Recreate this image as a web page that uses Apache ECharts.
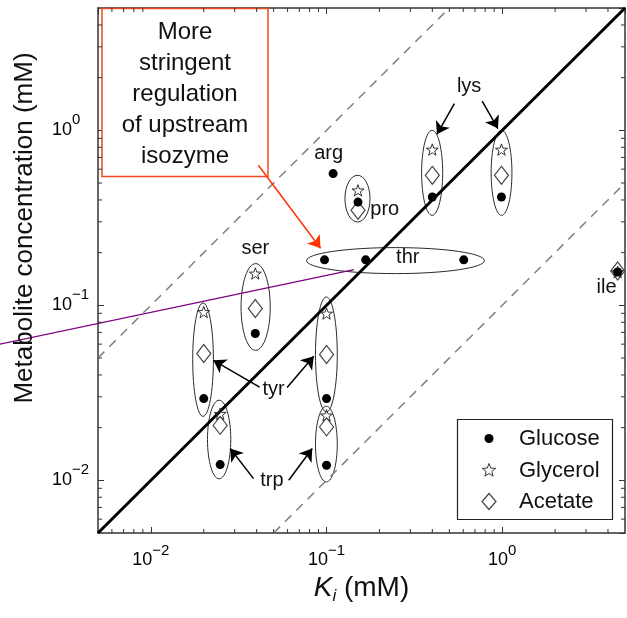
<!DOCTYPE html>
<html>
<head>
<meta charset="utf-8">
<script src="https://cdn.jsdelivr.net/npm/echarts@6/dist/echarts.min.js"></script>
<style>
  html, body { margin: 0; padding: 0; background: #fff; }
  #main { width: 627px; height: 618px; }
</style>
</head>
<body>
<div id="main"></div>
<script>
// ---------- 数据 ----------
var axisMin = 0.005, axisMax = 5;
var minorTicks = [0.006, 0.007, 0.008, 0.009,
  0.02, 0.03, 0.04, 0.05, 0.06, 0.07, 0.08, 0.09,
  0.2, 0.3, 0.4, 0.5, 0.6, 0.7, 0.8, 0.9,
  2, 3, 4];

// [Ki, concentration]
var glucose = [[0.109, 0.566], [0.151, 0.389], [0.4, 0.416], [0.99, 0.416],
  [0.0974, 0.182], [0.167, 0.182], [0.604, 0.182], [0.0393, 0.069],
  [0.02, 0.0293], [0.1, 0.0293], [0.0248, 0.0123], [0.1, 0.0122], [4.54, 0.155]];
var glycerol = [[0.151, 0.454], [0.4, 0.776], [0.99, 0.776], [0.0393, 0.152],
  [0.02, 0.0916], [0.1, 0.0897], [0.0248, 0.024], [0.1, 0.0235], [4.54, 0.155]];
var acetate = [[0.151, 0.349], [0.4, 0.553], [0.99, 0.553], [0.0393, 0.0958],
  [0.02, 0.053], [0.1, 0.0523], [0.0248, 0.0206], [0.1, 0.0202], [4.54, 0.157]];

// y = x and the 10-fold bands
var identityLine = [[0.005, 0.005], [5, 5]];
var upperLine = [[0.005, 0.05], [0.5, 5]];
var lowerLine = [[0.05, 0.005], [5, 0.5]];

// circled groups: [KiLo, KiHi, concLo, concHi]
var groupBounds = [
  [0.1273, 0.1768, 0.2992, 0.5533],  // pro
  [0.3476, 0.4583, 0.3268, 1.0],     // lys
  [0.865, 1.136, 0.3268, 1.0],       // lys
  [0.0769, 0.7923, 0.1518, 0.2137],  // thr
  [0.0326, 0.0478, 0.0553, 0.1731],  // ser
  [0.0173, 0.0227, 0.0232, 0.1031],  // tyr
  [0.0865, 0.1151, 0.0246, 0.1115],  // tyr
  [0.021, 0.0285, 0.0102, 0.0287],   // trp
  [0.0865, 0.1151, 0.0098, 0.0265]   // trp
];

var labelNames = ['arg', 'pro', 'thr', 'lys', 'ser', 'tyr', 'trp', 'ile'];
var labelPos = [[0.1027, 0.739], [0.2145, 0.354], [0.29, 0.188], [0.648, 1.784],
  [0.0393, 0.212], [0.05, 0.033], [0.0489, 0.01], [3.93, 0.1263]];

var arrows = [
  [[0.534, 1.421], [0.425, 0.949]],
  [[0.769, 1.47], [0.945, 1.023]],
  [[0.0416, 0.0341], [0.0227, 0.0485]],
  [[0.0596, 0.0339], [0.0846, 0.0511]],
  [[0.0384, 0.01023], [0.0283, 0.0152]],
  [[0.0609, 0.01], [0.0829, 0.0152]]
];
var calloutArrow = [[0.0409, 0.631], [0.0924, 0.2117]];
var purpleLine = [[0.00137, 0.0599], [0.1432, 0.16]];

// ---------- 绘图 ----------
var FONT = '"Liberation Sans", Arial, Helvetica, sans-serif';
var starPath = 'path://M0,-10L2.35,-3.24L9.51,-3.09L3.8,1.24L5.88,8.09L0,4L-5.88,8.09L-3.8,1.24L-9.51,-3.09L-2.35,-3.24Z';

function powLabel(v) {
  var l = Math.log10(v), e = Math.round(l);
  if (Math.abs(l - e) > 1e-6) return '';
  return '{b|10}{s|' + (e < 0 ? '\u2212' + (-e) : e) + '}';
}
var tickRich = {
  b: { fontSize: 18, fontFamily: FONT, color: '#000' },
  s: { fontSize: 15, fontFamily: FONT, color: '#000', padding: [0, 0, 20, 0] }
};

function starPoints(cx, cy, R, r) {
  var pts = [];
  for (var k = 0; k < 10; k++) {
    var rad = k % 2 ? r : R, a = -Math.PI / 2 + k * Math.PI / 5;
    pts.push([cx + rad * Math.cos(a), cy + rad * Math.sin(a)]);
  }
  return pts;
}

function minorX(params, api) {
  var v = api.value(0);
  var b = api.coord([v, axisMin]), t = api.coord([v, axisMax]);
  return { type: 'group', children: [
    { type: 'line', shape: { x1: b[0], y1: b[1], x2: b[0], y2: b[1] - 4 }, style: { stroke: '#333', lineWidth: 1 } },
    { type: 'line', shape: { x1: t[0], y1: t[1], x2: t[0], y2: t[1] + 4 }, style: { stroke: '#333', lineWidth: 1 } }
  ] };
}
function minorY(params, api) {
  var v = api.value(1);
  var l = api.coord([axisMin, v]), r = api.coord([axisMax, v]);
  return { type: 'group', children: [
    { type: 'line', shape: { x1: l[0], y1: l[1], x2: l[0] + 4, y2: l[1] }, style: { stroke: '#333', lineWidth: 1 } },
    { type: 'line', shape: { x1: r[0], y1: r[1], x2: r[0] - 4, y2: r[1] }, style: { stroke: '#333', lineWidth: 1 } }
  ] };
}

var chart = echarts.init(document.getElementById('main'));

var logAxis = {
  type: 'log', logBase: 10, min: axisMin, max: axisMax,
  splitLine: { show: false },
  axisLine: { show: true, lineStyle: { color: '#333', width: 1.5 } },
  axisTick: { show: true, inside: true, length: 6, lineStyle: { color: '#333', width: 1 } },
  minorTick: { show: false }
};

var option = {
  animation: false,
  backgroundColor: '#fff',
  grid: { left: 98, top: 8, width: 527, height: 525, outerBoundsMode: 'none' },
  xAxis: [
    echarts.util.merge({
      position: 'bottom',
      axisLabel: { formatter: powLabel, rich: tickRich, margin: 10, showMinLabel: false, showMaxLabel: false },
      name: '{k|K}{i|i}{u| (mM)}',
      nameLocation: 'middle',
      nameGap: 20,
      nameTextStyle: {
        rich: {
          k: { fontSize: 28, fontStyle: 'italic', fontFamily: FONT, color: '#111' },
          i: { fontSize: 17, fontStyle: 'italic', fontFamily: FONT, color: '#111', padding: [16, 0, 0, 0] },
          u: { fontSize: 28, fontFamily: FONT, color: '#111' }
        }
      }
    }, logAxis, true),
    echarts.util.merge({ position: 'top', axisLabel: { show: false } }, logAxis, true)
  ],
  yAxis: [
    echarts.util.merge({
      position: 'left',
      axisLabel: { formatter: powLabel, rich: tickRich, margin: 46, align: 'left', showMinLabel: false, showMaxLabel: false }
    }, logAxis, true),
    echarts.util.merge({ position: 'right', axisLabel: { show: false } }, logAxis, true)
  ],
  series: [
    {
      type: 'custom', name: 'groups', z: 2,
      data: groupBounds,
      encode: { x: [0, 1], y: [2, 3] },
      renderItem: function (params, api) {
        var a = api.coord([api.value(0), api.value(2)]);
        var b = api.coord([api.value(1), api.value(3)]);
        return {
          type: 'ellipse',
          shape: { cx: (a[0] + b[0]) / 2, cy: (a[1] + b[1]) / 2, rx: Math.abs(b[0] - a[0]) / 2, ry: Math.abs(b[1] - a[1]) / 2 },
          style: { fill: 'none', stroke: '#2a2a2a', lineWidth: 1 }
        };
      }
    },
    { type: 'line', data: upperLine, symbol: 'none', z: 3, lineStyle: { color: '#808080', width: 1.5, type: [9, 7] } },
    { type: 'line', data: lowerLine, symbol: 'none', z: 3, lineStyle: { color: '#808080', width: 1.5, type: [9, 7] } },
    { type: 'line', data: identityLine, symbol: 'none', z: 3, lineStyle: { color: '#000', width: 3 } },
    {
      type: 'scatter', name: 'Acetate', data: acetate, z: 4,
      symbol: 'diamond', symbolSize: [14, 18],
      itemStyle: { color: 'rgba(0,0,0,0)', borderColor: '#444', borderWidth: 1.2, opacity: 1 }
    },
    {
      type: 'scatter', name: 'Glycerol', data: glycerol, z: 4,
      symbol: starPath, symbolSize: 12, symbolKeepAspect: true,
      itemStyle: { color: 'rgba(0,0,0,0)', borderColor: '#333', borderWidth: 1, opacity: 1 }
    },
    {
      type: 'scatter', name: 'Glucose', data: glucose, z: 5,
      symbol: 'circle', symbolSize: 9,
      itemStyle: { color: '#000', opacity: 1 }
    },
    {
      type: 'lines', coordinateSystem: 'cartesian2d', z: 6,
      data: arrows.map(function (a) { return { coords: a }; }),
      symbol: ['none', 'arrow'], symbolSize: 12,
      lineStyle: { color: '#000', width: 1.5, opacity: 1 }
    },
    {
      type: 'lines', coordinateSystem: 'cartesian2d', z: 7,
      data: [{ coords: calloutArrow }],
      symbol: ['none', 'arrow'], symbolSize: 12,
      lineStyle: { color: '#ff3300', width: 1.5, opacity: 1 }
    },
    {
      type: 'lines', coordinateSystem: 'cartesian2d', z: 7, clip: false,
      data: [{ coords: purpleLine }],
      symbol: 'none',
      lineStyle: { color: '#800080', width: 1.2, opacity: 1 }
    },
    {
      type: 'custom', name: 'labels', z: 8,
      data: labelPos,
      renderItem: function (params, api) {
        var p = api.coord([api.value(0), api.value(1)]);
        return {
          type: 'text', x: p[0], y: p[1],
          style: { text: labelNames[params.dataIndex], fontSize: 20, fontFamily: FONT, fill: '#111', align: 'center', verticalAlign: 'middle' }
        };
      }
    },
    {
      type: 'custom', name: 'minorX', z: 9,
      data: minorTicks.map(function (v) { return [v, axisMin]; }),
      renderItem: minorX
    },
    {
      type: 'custom', name: 'minorY', z: 9,
      data: minorTicks.map(function (v) { return [axisMin, v]; }),
      renderItem: minorY
    }
  ],
  graphic: [
    {
      type: 'text', x: 25, y: 228, rotation: Math.PI / 2, z: 100,
      style: { text: 'Metabolite concentration (mM)', fontSize: 26, fontFamily: FONT, fill: '#111', align: 'center', verticalAlign: 'middle' }
    },
    {
      type: 'rect', z: 1,
      shape: { x: 102, y: 8.5, width: 166, height: 168 },
      style: { fill: '#fff', stroke: '#f04a24', lineWidth: 1.5 }
    },
    {
      type: 'text', x: 185, y: 94.6, z: 100,
      style: { text: 'More\nstringent\nregulation\nof upstream\nisozyme', fontSize: 24, lineHeight: 31, fontFamily: FONT, fill: '#111', align: 'center', verticalAlign: 'middle' }
    },
    {
      type: 'group', z: 100,
      children: [
        { type: 'rect', shape: { x: 457.5, y: 419.5, width: 155, height: 100 }, style: { fill: '#fff', stroke: '#222', lineWidth: 1.2 } },
        { type: 'circle', shape: { cx: 489, cy: 438.5, r: 4.5 }, style: { fill: '#000' } },
        { type: 'polygon', shape: { points: starPoints(489, 470.5, 7, 3) }, style: { fill: 'none', stroke: '#333', lineWidth: 1 } },
        { type: 'polygon', shape: { points: [[489, 493.5], [496, 501.5], [489, 509.5], [482, 501.5]] }, style: { fill: 'none', stroke: '#444', lineWidth: 1.2 } },
        { type: 'text', x: 519, y: 438.5, style: { text: 'Glucose', fontSize: 22, fontFamily: FONT, fill: '#111', verticalAlign: 'middle' } },
        { type: 'text', x: 519, y: 470.5, style: { text: 'Glycerol', fontSize: 22, fontFamily: FONT, fill: '#111', verticalAlign: 'middle' } },
        { type: 'text', x: 519, y: 502, style: { text: 'Acetate', fontSize: 22, fontFamily: FONT, fill: '#111', verticalAlign: 'middle' } }
      ]
    }
  ]
};
chart.setOption(option);
</script>
</body>
</html>
